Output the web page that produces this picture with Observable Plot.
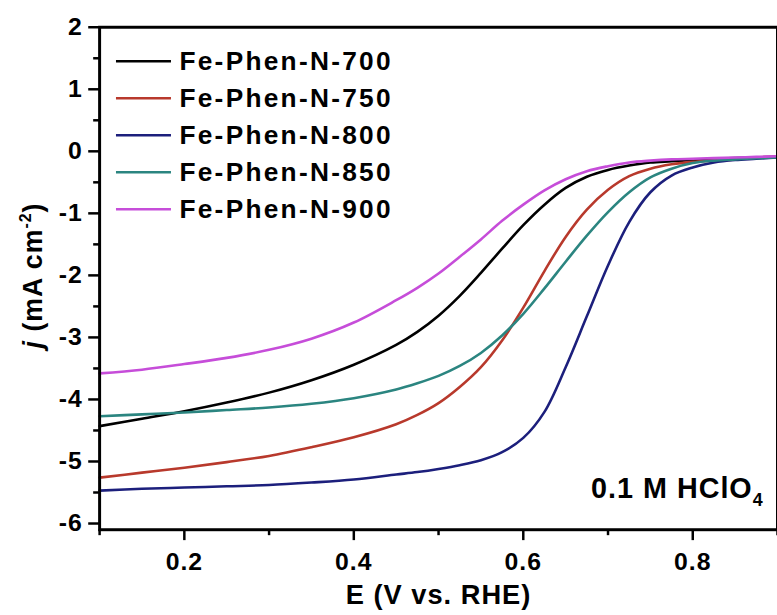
<!DOCTYPE html>
<html><head><meta charset="utf-8">
<script src="https://cdn.jsdelivr.net/npm/d3@7"></script>
<script src="https://cdn.jsdelivr.net/npm/@observablehq/plot@0.6"></script>
<style>
html,body{margin:0;padding:0;background:#fff;overflow:hidden;width:777px;height:615px}
#chart{position:relative;width:777px;height:615px;overflow:hidden}
</style></head><body><div id="chart"></div>
<script>
// Potential E (V vs. RHE)
const E = [0.1,0.15,0.2,0.25,0.3,0.35,0.4,0.45,0.475,0.5,0.525,0.55,0.575,0.6,0.625,0.65,0.675,0.7,0.725,0.75,0.775,0.8,0.825,0.85,0.875,0.9];
// current density j (mA cm-2)
const j700 = [-4.43,-4.31,-4.19,-4.05,-3.89,-3.69,-3.44,-3.12,-2.91,-2.65,-2.33,-1.96,-1.57,-1.19,-0.86,-0.59,-0.41,-0.30,-0.23,-0.18,-0.16,-0.14,-0.12,-0.11,-0.10,-0.09];
const j750 = [-5.26,-5.18,-5.10,-5.01,-4.91,-4.77,-4.61,-4.40,-4.25,-4.06,-3.80,-3.48,-3.05,-2.52,-1.93,-1.38,-0.94,-0.62,-0.40,-0.28,-0.21,-0.17,-0.15,-0.13,-0.10,-0.08];
const j800 = [-5.47,-5.44,-5.42,-5.40,-5.38,-5.34,-5.29,-5.21,-5.17,-5.12,-5.06,-4.98,-4.85,-4.62,-4.20,-3.48,-2.66,-1.84,-1.14,-0.66,-0.39,-0.26,-0.18,-0.14,-0.12,-0.10];
const j850 = [-4.27,-4.24,-4.21,-4.17,-4.13,-4.07,-3.98,-3.84,-3.74,-3.62,-3.46,-3.25,-2.97,-2.62,-2.21,-1.78,-1.36,-0.98,-0.66,-0.42,-0.28,-0.19,-0.15,-0.13,-0.11,-0.10];
const j900 = [-3.58,-3.52,-3.43,-3.33,-3.20,-3.02,-2.76,-2.40,-2.20,-1.97,-1.70,-1.42,-1.12,-0.86,-0.63,-0.45,-0.32,-0.24,-0.18,-0.15,-0.13,-0.12,-0.11,-0.10,-0.09,-0.08];
const seriesNames = ["Fe-Phen-N-700","Fe-Phen-N-750","Fe-Phen-N-800","Fe-Phen-N-850","Fe-Phen-N-900"];
const seriesColors = ["#000000","#b8392c","#1c1f7c","#2b8580","#c64dd9"];
const xTicks = [0.2,0.4,0.6,0.8];
const xMinorTicks = [0.1,0.3,0.5,0.7,0.9];
const yTicks = [-6,-5,-4,-3,-2,-1,0,1,2];
const yMinorTicks = [-5.5,-4.5,-3.5,-2.5,-1.5,-0.5,0.5,1.5];
const xLabel = "E (V vs. RHE)";
const yLabel = "j (mA cm-2)";
const note = "0.1 M HClO4";

const allJ = [j700,j750,j800,j850,j900];
const rows = [];
allJ.forEach((arr,k)=>arr.forEach((v,i)=>rows.push({E:E[i], j:v, s:seriesNames[k]})));
const legendRows = seriesNames.map((name,i)=>({name, i}));
const legY = d => 1.452 - 0.5967*d.i;

const chart = Plot.plot({
  width: 784, height: 615,
  marginLeft: 100, marginRight: 0, marginTop: 27, marginBottom: 81,
  style: {fontFamily: "'Liberation Sans', Arial, sans-serif", fontWeight: "bold", fontSize: "25px", background: "#fff", color: "#000", letterSpacing: "1px"},
  x: {domain: [0.1, 0.9]},
  y: {domain: [-6.1, 2]},
  color: {domain: seriesNames, range: seriesColors},
  marks: [
    Plot.line(rows, {x: "E", y: "j", z: "s", stroke: "s", strokeWidth: 2.6, curve: "catmull-rom"}),
    Plot.axisX(xMinorTicks, {tickSize: 6, text: null, label: null, strokeWidth: 2.5}),
    Plot.axisX(xTicks, {tickSize: 11, tickPadding: 12, label: null, strokeWidth: 2.5, tickFormat: d => String(d)}),
    Plot.axisY(yMinorTicks, {tickSize: 6, text: null, label: null, strokeWidth: 2.5}),
    Plot.axisY(yTicks, {tickSize: 11, tickPadding: 6, label: null, strokeWidth: 2.5, tickFormat: d => String(d)}),
    Plot.frame({strokeWidth: 3}),
    Plot.ruleY(legendRows, {y: legY, x1: 0.1199, x2: 0.1848, stroke: "name", strokeWidth: 2.6}),
    Plot.text(legendRows, {y: legY, x: 0.1942, text: "name", textAnchor: "start", lineAnchor: "middle", fontSize: 26.5, fill: "#000"}),
    Plot.text([xLabel], {frameAnchor: "bottom", textAnchor: "middle", dy: 55, lineAnchor: "top", fontSize: 27.5, fill: "#000"}),
    Plot.text([yLabel], {frameAnchor: "left", textAnchor: "middle", dx: -67, dy: -3, rotate: -90, lineAnchor: "middle", fontSize: 27, fill: "#000"}),
    Plot.text([note], {frameAnchor: "bottom-right", dx: -14, dy: -32, textAnchor: "end", lineAnchor: "bottom", fontSize: 29, fill: "#000"})
  ]
});
document.getElementById("chart").appendChild(chart);

const svg = d3.select(chart);
svg.selectAll("g[font-size='26.5'] text").style("letter-spacing", "2.3px");
svg.selectAll("text").each(function(){
  const t = d3.select(this);
  const s = this.textContent;
  if (s === yLabel) {
    t.text(null);
    t.append("tspan").attr("font-style","italic").text("j");
    t.append("tspan").text(" (mA cm");
    t.append("tspan").attr("font-size", 16).attr("dy", -11).text("-2");
    t.append("tspan").attr("dy", 11).text(")");
  } else if (s === note) {
    t.text(null);
    t.append("tspan").text("0.1 M HClO");
    t.append("tspan").attr("font-size", 18).attr("dy", 8).text("4");
  }
});
</script></body></html>
